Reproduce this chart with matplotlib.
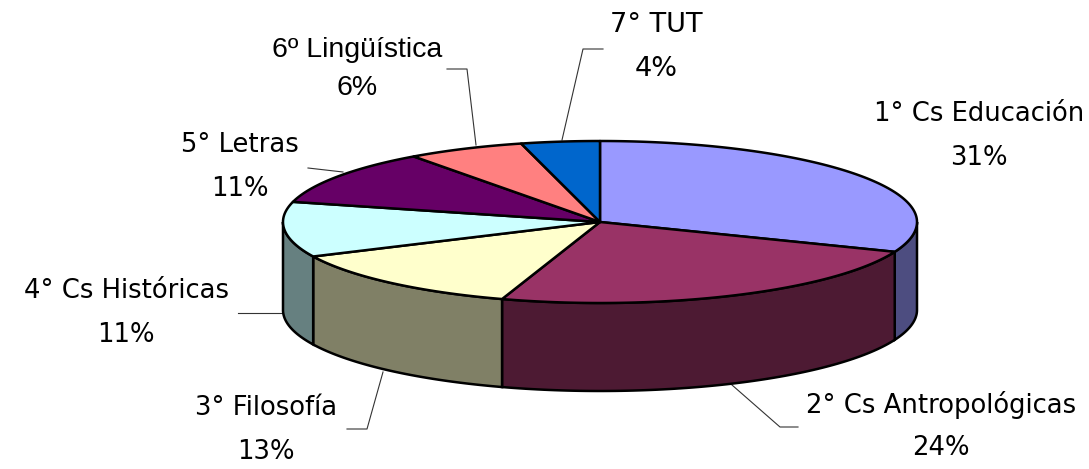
import numpy as np
import matplotlib
matplotlib.use("Agg")
import matplotlib.pyplot as plt

# ---- data ----
categories = ["1° Cs Educación", "2° Cs Antropológicas", "3° Filosofía",
              "4° Cs Históricas", "5° Letras", "6º Lingüística", "7° TUT"]
values = [31, 24, 13, 11, 11, 6, 4]
top_colors = ["#9999FF", "#993366", "#FFFFCC", "#CCFFFF", "#660066", "#FF8080", "#0066CC"]
side_colors = ["#4D4D80", "#4D1A33", "#808066", "#668080", "#330033", "#804040", "#003366"]

# ---- geometry (pixel space) ----
W, H = 1089, 469
cx, cy, rx, ry, depth = 600, 222, 317, 81, 88

fig = plt.figure(figsize=(W / 100, H / 100), dpi=100)
ax = fig.add_axes([0, 0, 1, 1])
ax.set_xlim(0, W)
ax.set_ylim(H, 0)
ax.axis("off")

vals = np.array(values, dtype=float)
frac = vals / vals.sum()
cum = np.concatenate([[0], np.cumsum(frac)])
starts = 90 - 360 * cum[:-1]
ends = 90 - 360 * cum[1:]


def pt(tdeg, dz=0.0):
    t = np.radians(tdeg)
    return cx + rx * np.cos(t), cy - ry * np.sin(t) + dz


lw = 1.8
# side walls (visible front half: angles between -180 and 0)
for s, e, c in zip(starts, ends, side_colors):
    a_hi = min(s, 0.0)
    a_lo = max(e, -180.0)
    if a_hi <= a_lo:
        continue
    t = np.linspace(a_hi, a_lo, 80)
    xt, yt = pt(t)
    xb, yb = pt(t[::-1], depth)
    ax.fill(np.concatenate([xt, xb]), np.concatenate([yt, yb]),
            facecolor=c, edgecolor="black", linewidth=lw, zorder=1)

# top faces
for s, e, c in zip(starts, ends, top_colors):
    t = np.linspace(s, e, 150)
    xt, yt = pt(t)
    ax.fill(np.concatenate([[cx], xt]), np.concatenate([[cy], yt]),
            facecolor=c, edgecolor="black", linewidth=lw, zorder=2,
            joinstyle="round")

# ---- labels ----
comic = ["DejaVu Sans"]
arial = ["Liberation Sans", "DejaVu Sans"]
label_pos = [(979, 136), (941, 426), (266, 430), (126, 313), (240, 167), (357, 69), (656, 47)]
label_fonts = [comic, comic, comic, comic, comic, arial, comic]
label_sizes = [18.6, 18.6, 18.6, 18.6, 18.6, 20.5, 19.5]
label_spacing = [1.9, 1.8, 1.9, 1.9, 1.85, 1.6, 1.95]
for name, v, (x, y), f, fs, ls in zip(categories, values, label_pos, label_fonts,
                                      label_sizes, label_spacing):
    ax.text(x, y, f"{name}\n{v}%", ha="center", va="center", multialignment="center",
            fontsize=fs, family=f, linespacing=ls, color="black", zorder=5)

# leader lines
leaders = [
    None,
    [(732, 385), (780, 427), (798, 427)],
    [(383, 372), (367, 429), (347, 429)],
    [(283, 313), (238, 313)],
    [(343, 172), (308, 168)],
    [(476, 145), (467, 69), (447, 69)],
    [(562, 140), (583, 49), (603, 49)],
]
for ld in leaders:
    if ld is None:
        continue
    xs, ys = zip(*ld)
    ax.plot(xs, ys, color="#333333", linewidth=0.8, zorder=0)

fig.savefig("out.png", dpi=100)
